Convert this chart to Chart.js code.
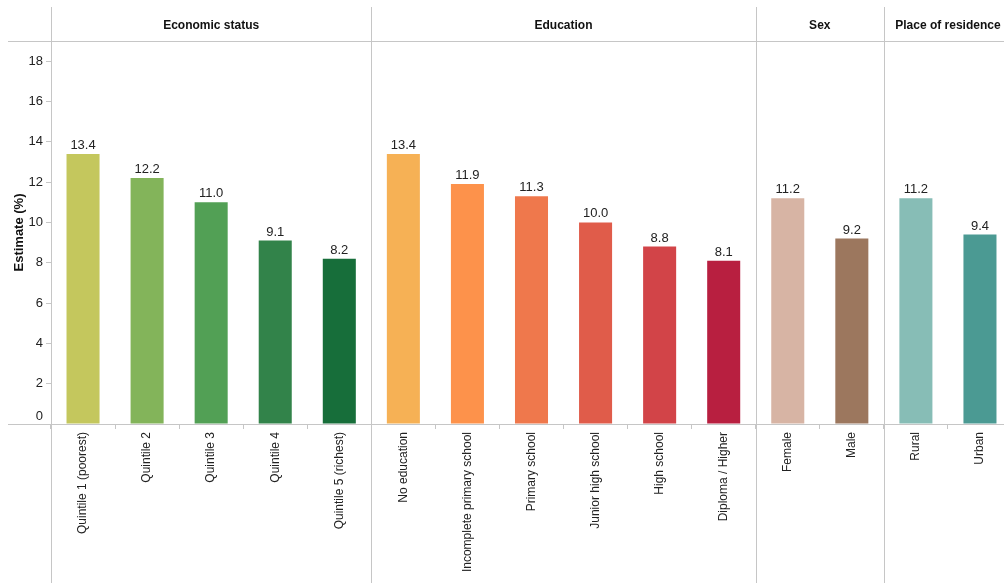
<!DOCTYPE html>
<html>
<head>
<meta charset="utf-8">
<script src="https://cdn.jsdelivr.net/npm/chart.js@4"></script>
<style>
html, body { margin: 0; padding: 0; background: #fff; overflow: hidden; }
#wrap { width: 1004px; height: 583px; overflow: hidden; }
</style>
</head>
<body>
<div id="wrap"><canvas id="myChart" width="1012" height="583"></canvas></div>
<script>
var categories = ['Quintile 1 (poorest)', 'Quintile 2', 'Quintile 3', 'Quintile 4', 'Quintile 5 (richest)',
    'No education', 'Incomplete primary school', 'Primary school', 'Junior high school', 'High school', 'Diploma / Higher',
    'Female', 'Male', 'Rural', 'Urban']
var estimates = [13.4, 12.2, 11.0, 9.1, 8.2, 13.4, 11.9, 11.3, 10.0, 8.8, 8.1, 11.2, 9.2, 11.2, 9.4]
var barColors = ['#c4c75d', '#83b45a', '#52a055', '#32834a', '#176e3a',
    '#f6b155', '#fd924b', '#ef784c', '#e05c4a', '#d24448', '#b81f40',
    '#d7b4a4', '#9c775e', '#87bdb6', '#4b9a93']
var groupNames = ['Economic status', 'Education', 'Sex', 'Place of residence']
var groupSizes = [5, 6, 2, 2]
var yTicks = [0, 2, 4, 6, 8, 10, 12, 14, 16, 18]

var lineColor = '#c6c6c6'
var fontFamily = '"Liberation Sans", Arial, sans-serif'

var panelPlugin = {
    id: 'panels',
    afterDraw: function (chart) {
        var ctx = chart.ctx
        var xs = chart.scales.x
        var ys = chart.scales.y
        var area = chart.chartArea
        var half = (xs.getPixelForValue(1) - xs.getPixelForValue(0)) / 2
        ctx.save()
        ctx.strokeStyle = lineColor
        ctx.lineWidth = 1
        ctx.beginPath()
        ctx.moveTo(8, Math.round(area.top) + 0.5)
        ctx.lineTo(chart.width, Math.round(area.top) + 0.5)
        ctx.moveTo(8, Math.round(area.bottom) + 0.5)
        ctx.lineTo(chart.width, Math.round(area.bottom) + 0.5)
        ctx.stroke()

        var start = 0
        ctx.font = 'bold 12px ' + fontFamily
        ctx.fillStyle = '#111'
        ctx.textAlign = 'center'
        ctx.textBaseline = 'alphabetic'
        for (var g = 0; g < groupNames.length; g++) {
            var left = xs.getPixelForValue(start) - half
            var right = xs.getPixelForValue(start + groupSizes[g] - 1) + half
            var lx = Math.round(left) + 0.5
            ctx.beginPath()
            ctx.moveTo(lx, 7)
            ctx.lineTo(lx, chart.height)
            ctx.stroke()
            ctx.fillText(groupNames[g], (left + right) / 2, 29)
            start += groupSizes[g]
        }

        // zero label sits just above the axis line
        ctx.font = '13px ' + fontFamily
        ctx.fillStyle = '#222'
        ctx.textAlign = 'right'
        ctx.textBaseline = 'middle'
        ctx.fillText('0', area.left - 8, ys.getPixelForValue(0) - 8)

        // value labels
        var meta = chart.getDatasetMeta(0)
        ctx.textAlign = 'center'
        ctx.textBaseline = 'alphabetic'
        meta.data.forEach(function (bar, i) {
            ctx.fillText(estimates[i].toFixed(1), bar.x, bar.y - 5)
        })
        ctx.restore()
    }
}

function drawChart() {
    var ctx = document.getElementById('myChart').getContext('2d')
    new Chart(ctx, {
        type: 'bar',
        data: {
            labels: categories,
            datasets: [{
                label: 'Estimate (%)',
                data: estimates,
                backgroundColor: barColors,
                borderWidth: 0,
                categoryPercentage: 1,
                barPercentage: 33 / 64
            }]
        },
        options: {
            responsive: false,
            devicePixelRatio: 1,
            animation: false,
            layout: { padding: { top: 41, left: 0, right: 0, bottom: 0 } },
            plugins: {
                legend: { display: false },
                tooltip: { enabled: false }
            },
            scales: {
                x: {
                    offset: true,
                    border: { display: false },
                    grid: {
                        offset: true,
                        drawOnChartArea: false,
                        drawTicks: true,
                        tickLength: 5,
                        color: lineColor
                    },
                    ticks: {
                        autoSkip: false,
                        minRotation: 90,
                        maxRotation: 90,
                        padding: 3,
                        color: '#222',
                        font: { family: fontFamily, size: 12 }
                    },
                    afterFit: function (scale) { scale.height = 159 }
                },
                y: {
                    min: 0,
                    max: 19,
                    afterBuildTicks: function (scale) {
                        scale.ticks = yTicks.map(function (v) { return { value: v } })
                    },
                    border: { display: false },
                    grid: {
                        drawOnChartArea: false,
                        drawTicks: true,
                        tickLength: 5,
                        color: function (c) { return c.tick && c.tick.value === 0 ? 'rgba(0,0,0,0)' : lineColor }
                    },
                    ticks: {
                        padding: 3,
                        color: '#222',
                        font: { family: fontFamily, size: 13 },
                        callback: function (v) { return v === 0 ? '' : v }
                    },
                    title: {
                        display: true,
                        text: 'Estimate (%)',
                        color: '#111',
                        padding: { top: 12, bottom: 0 },
                        font: { family: fontFamily, size: 13, weight: 'bold' }
                    },
                    afterFit: function (scale) { scale.width = 51 }
                }
            }
        },
        plugins: [panelPlugin]
    })
}

document.addEventListener('DOMContentLoaded', drawChart)
</script>
</body>
</html>
